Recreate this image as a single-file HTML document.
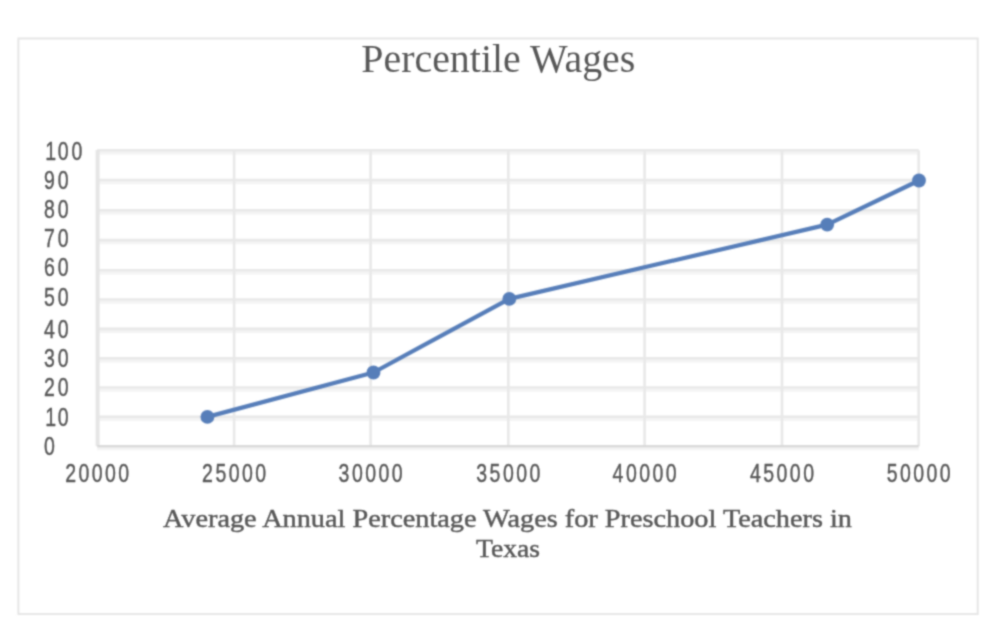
<!DOCTYPE html>
<html><head><meta charset="utf-8"><style>
html,body{margin:0;padding:0;background:#fff;overflow:hidden;}
svg{display:block;}
text{font-family:"Liberation Serif",serif;fill:#595959;}
.yl{letter-spacing:3.8px;} .xl{letter-spacing:3.15px;}
.lab text{font-family:"Liberation Sans",sans-serif;font-size:25px;stroke:#595959;stroke-width:0.45px;}
.at{stroke:#595959;stroke-width:0.45px;}
</style></head><body>
<svg width="998" height="633" viewBox="0 0 998 633">
<defs><filter id="fb" x="-5%" y="-5%" width="110%" height="110%"><feConvolveMatrix order="5" kernelMatrix="0.00023 0.00332 0.00809 0.00332 0.00023 0.00332 0.04785 0.11640 0.04785 0.00332 0.00809 0.11640 0.28313 0.11640 0.00809 0.00332 0.04785 0.11640 0.04785 0.00332 0.00023 0.00332 0.00809 0.00332 0.00023" divisor="1" edgeMode="none" preserveAlpha="false"/></filter><filter id="ft" x="-5%" y="-5%" width="110%" height="110%"><feConvolveMatrix order="5" kernelMatrix="0.00009 0.00198 0.00548 0.00198 0.00009 0.00198 0.04220 0.11707 0.04220 0.00198 0.00548 0.11707 0.32480 0.11707 0.00548 0.00198 0.04220 0.11707 0.04220 0.00198 0.00009 0.00198 0.00548 0.00198 0.00009" divisor="1" edgeMode="none" preserveAlpha="false"/></filter></defs>
<rect x="0" y="0" width="998" height="633" fill="#fff"/>
<g filter="url(#fb)">
<rect x="18.4" y="38.5" width="959.3" height="575.5" fill="#fff" stroke="#e6e6e6" stroke-width="2"/>
<g fill="#f4f4f4"><rect x="97.2" y="447.40" width="821.50" height="3.0"/><rect x="97.2" y="418.00" width="821.50" height="3.0"/><rect x="97.2" y="388.70" width="821.50" height="3.0"/><rect x="97.2" y="359.60" width="821.50" height="3.0"/><rect x="97.2" y="330.10" width="821.50" height="3.0"/><rect x="97.2" y="300.70" width="821.50" height="3.0"/><rect x="97.2" y="271.50" width="821.50" height="3.0"/><rect x="97.2" y="241.30" width="821.50" height="3.0"/><rect x="97.2" y="211.60" width="821.50" height="3.0"/><rect x="97.2" y="181.20" width="821.50" height="3.0"/><rect x="97.2" y="151.60" width="821.50" height="3.0"/></g>
<g stroke="#e8e8e8" stroke-width="2.6"><line x1="97.2" x2="918.7" y1="416.8" y2="416.8"/><line x1="97.2" x2="918.7" y1="387.5" y2="387.5"/><line x1="97.2" x2="918.7" y1="358.4" y2="358.4"/><line x1="97.2" x2="918.7" y1="328.9" y2="328.9"/><line x1="97.2" x2="918.7" y1="299.5" y2="299.5"/><line x1="97.2" x2="918.7" y1="270.3" y2="270.3"/><line x1="97.2" x2="918.7" y1="240.1" y2="240.1"/><line x1="97.2" x2="918.7" y1="210.4" y2="210.4"/><line x1="97.2" x2="918.7" y1="180.0" y2="180.0"/><line x1="97.2" x2="918.7" y1="150.4" y2="150.4"/><line x1="234.1" x2="234.1" y1="150.4" y2="446.2"/><line x1="370.6" x2="370.6" y1="150.4" y2="446.2"/><line x1="508.3" x2="508.3" y1="150.4" y2="446.2"/><line x1="644.6" x2="644.6" y1="150.4" y2="446.2"/><line x1="782.0" x2="782.0" y1="150.4" y2="446.2"/><line x1="918.7" x2="918.7" y1="150.4" y2="446.2"/></g>
<line x1="97.6" x2="97.6" y1="149.9" y2="446.2" stroke="#e5e5e5" stroke-width="4"/><line x1="97.2" x2="918.7" y1="446.2" y2="446.2" stroke="#d9d9d9" stroke-width="2.6"/>
</g><g filter="url(#ft)"><text x="498.3" y="72" text-anchor="middle" font-size="39.5" textLength="274" lengthAdjust="spacingAndGlyphs">Percentile Wages</text>
<g class="lab"><text class="yl" transform="translate(44,455.05) scale(0.78,1)">0</text><text class="yl" transform="translate(44,425.95) scale(0.78,1)"><tspan dx="1.6">1</tspan><tspan dx="-1.6">0</tspan></text><text class="yl" transform="translate(44,396.45) scale(0.78,1)">20</text><text class="yl" transform="translate(44,366.85) scale(0.78,1)">30</text><text class="yl" transform="translate(44,337.75) scale(0.78,1)">40</text><text class="yl" transform="translate(44,305.75) scale(0.78,1)">50</text><text class="yl" transform="translate(44,276.45) scale(0.78,1)">60</text><text class="yl" transform="translate(44,247.35) scale(0.78,1)">70</text><text class="yl" transform="translate(44,217.95) scale(0.78,1)">80</text><text class="yl" transform="translate(44,188.95) scale(0.78,1)">90</text><text class="yl" transform="translate(44,159.95) scale(0.78,1)"><tspan dx="1.6">1</tspan><tspan dx="-1.6">00</tspan></text><text transform="translate(98.43,482) scale(0.78,1)" text-anchor="middle" class="xl">20000</text><text transform="translate(235.33,482) scale(0.78,1)" text-anchor="middle" class="xl">25000</text><text transform="translate(371.83,482) scale(0.78,1)" text-anchor="middle" class="xl">30000</text><text transform="translate(509.53,482) scale(0.78,1)" text-anchor="middle" class="xl">35000</text><text transform="translate(645.83,482) scale(0.78,1)" text-anchor="middle" class="xl">40000</text><text transform="translate(783.23,482) scale(0.78,1)" text-anchor="middle" class="xl">45000</text><text transform="translate(919.93,482) scale(0.78,1)" text-anchor="middle" class="xl">50000</text></g>
<text class="at" x="507.5" y="527" text-anchor="middle" font-size="26" textLength="689" lengthAdjust="spacingAndGlyphs">Average Annual Percentage Wages for Preschool Teachers in</text>
<text class="at" x="508" y="556.6" text-anchor="middle" font-size="26" textLength="64" lengthAdjust="spacingAndGlyphs">Texas</text></g><g filter="url(#fb)">
<polyline points="207.4,416.9 373.5,372.5 509.3,298.9 827.2,224.6 919.0,180.5" fill="none" stroke="#567eb9" stroke-width="4.2" stroke-linejoin="round"/>
<g fill="#567eb9"><circle cx="207.4" cy="416.9" r="6.9"/><circle cx="373.5" cy="372.5" r="6.9"/><circle cx="509.3" cy="298.9" r="6.9"/><circle cx="827.2" cy="224.6" r="6.9"/><circle cx="919.0" cy="180.5" r="6.9"/></g></g>
</svg>
</body></html>
